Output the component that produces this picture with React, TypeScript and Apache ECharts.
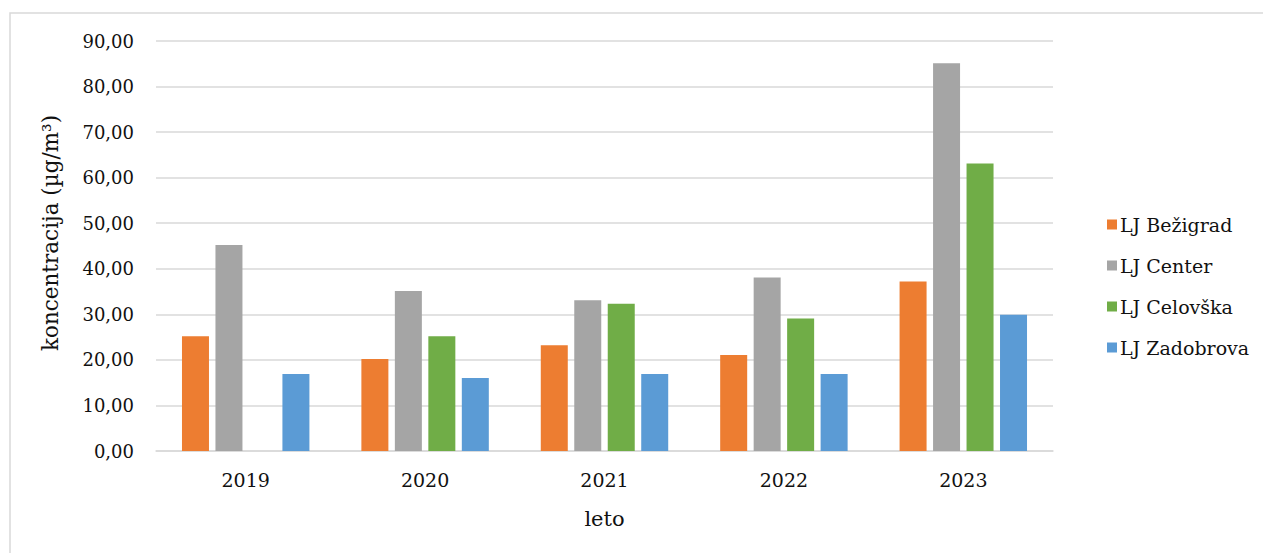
import React, { useEffect, useRef } from "react";
import * as echarts from "echarts";

const years = ["2019", "2020", "2021", "2022", "2023"];
const bezigrad = [25.2, 20.2, 23.2, 21.1, 37.2];
const center = [45.2, 35.1, 33.1, 38.1, 85.1];
const celovska: (number | null)[] = [null, 25.2, 32.3, 29.1, 63.1];
const zadobrova = [16.9, 16.0, 16.9, 16.9, 29.9];

const FONT = "'DejaVu Serif', 'Liberation Serif', serif";
const TXT = "#111";

export default function App() {
  const ref = useRef<HTMLDivElement>(null);
  useEffect(() => {
    const chart = echarts.init(ref.current!, null, { renderer: "svg" });
    const mk = (name: string, data: (number | null)[], color: string) => ({
      name,
      type: "bar",
      data,
      barWidth: 27,
      barGap: "24%",
      itemStyle: { color },
    });
    chart.setOption({
      animation: false,
      textStyle: { fontFamily: FONT, color: TXT },
      graphic: [
        {
          type: "rect",
          shape: { x: 10, y: 13, width: 1300, height: 600 },
          style: { fill: "none", stroke: "#d9d9d9", lineWidth: 1.5 },
          silent: true,
        },
      ],
      grid: { left: 156, right: 210, top: 41, bottom: 102 },
      legend: {
        orient: "vertical",
        left: 1102,
        top: 210,
        itemWidth: 10,
        itemHeight: 10,
        itemGap: 22,
        icon: "rect",
        textStyle: { fontFamily: FONT, fontSize: 19, color: TXT, padding: [0, 0, 0, -2] },
        data: ["LJ Bežigrad", "LJ Center", "LJ Celovška", "LJ Zadobrova"],
      },
      xAxis: {
        type: "category",
        data: years,
        name: "leto",
        nameLocation: "middle",
        nameGap: 57,
        nameTextStyle: { fontFamily: FONT, fontSize: 21, color: TXT },
        axisLine: { lineStyle: { color: "#d9d9d9", width: 1.5 } },
        axisTick: { show: false },
        axisLabel: { fontFamily: FONT, fontSize: 19, color: TXT, margin: 19 },
      },
      yAxis: {
        type: "value",
        min: 0,
        max: 90,
        interval: 10,
        name: "koncentracija (µg/m³)",
        nameLocation: "middle",
        nameGap: 95,
        nameTextStyle: { fontFamily: FONT, fontSize: 21.5, color: TXT, padding: [0, 0, 0, 26] },
        axisLine: { show: false },
        axisTick: { show: false },
        splitLine: { lineStyle: { color: "#d9d9d9", width: 1.5 } },
        axisLabel: {
          fontFamily: FONT,
          fontSize: 18,
          color: TXT,
          margin: 22,
          formatter: (v: number) => v.toFixed(2).replace(".", ","),
        },
      },
      series: [
        mk("LJ Bežigrad", bezigrad, "#ED7D31"),
        mk("LJ Center", center, "#A5A5A5"),
        mk("LJ Celovška", celovska, "#70AD47"),
        mk("LJ Zadobrova", zadobrova, "#5B9BD5"),
      ],
    });
    return () => chart.dispose();
  }, []);
  return (
    <div
      ref={ref}
      style={{ position: "absolute", left: 0, top: 0, width: 1263, height: 553, background: "#fff" }}
    />
  );
}
